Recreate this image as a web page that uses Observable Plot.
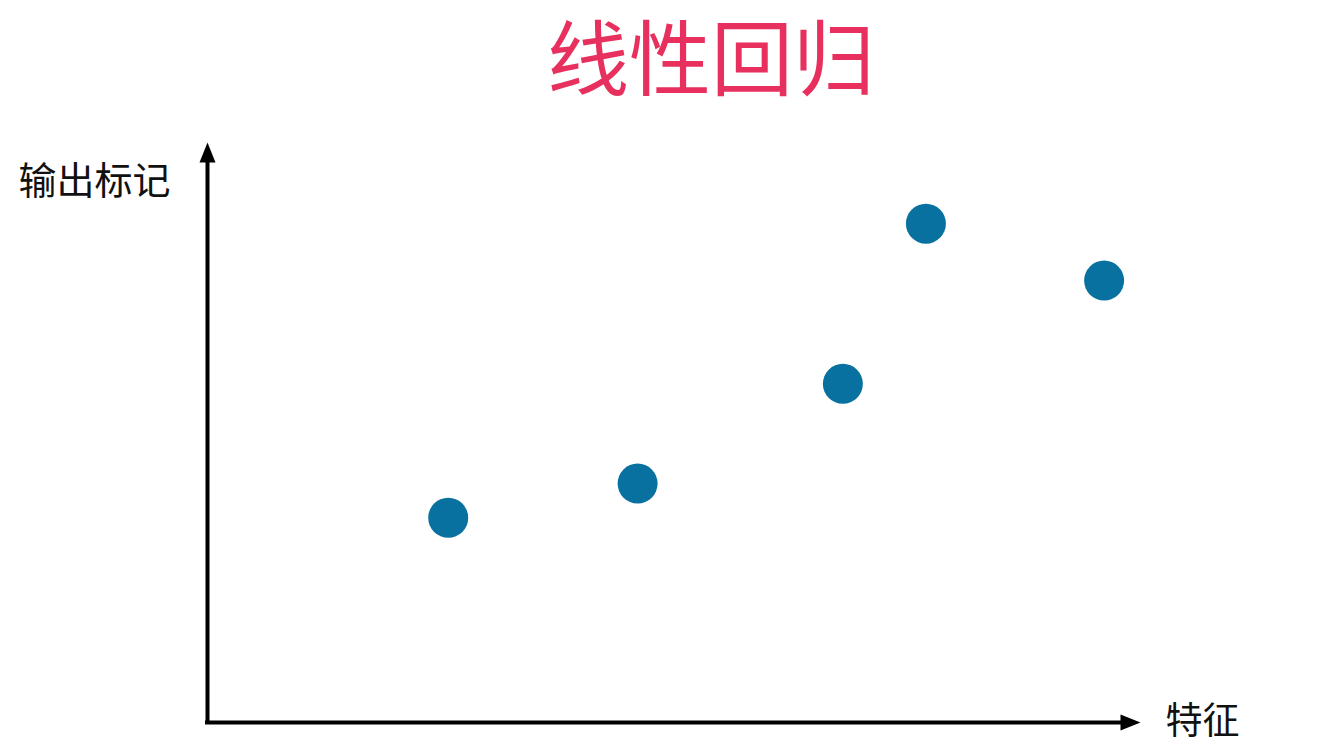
<!DOCTYPE html>
<html>
<head>
<meta charset="utf-8">
<script src="https://cdn.jsdelivr.net/npm/d3@7"></script>
<script src="https://cdn.jsdelivr.net/npm/@observablehq/plot@0.6"></script>
<style>
  html, body { margin: 0; padding: 0; background: #fff; }
  svg { display: block; }
</style>
</head>
<body>
<div id="chart"></div>
<script>
const title = "线性回归";
const xLabel = "特征";
const yLabel = "输出标记";
const features = [2.58, 4.61, 6.81, 7.70, 9.61];
const outputs  = [3.53, 4.12, 5.84, 8.60, 7.62];
const xMax = 10;
const yMax = 10;

const points = features.map((f, i) => ({feature: f, output: outputs[i]}));
const yAxisLine = [{x: 0, y1: yMax, y2: 0}];
const xAxisLine = [{y: 0, x1: 0, x2: xMax}];

const font = "'Noto Sans CJK SC', 'Noto Sans', sans-serif";

const head = {
  draw(context, l) {
    const w = 16;
    context.moveTo(0, -l);
    context.lineTo(-w / 2, 0);
    context.lineTo(w / 2, 0);
    context.closePath();
  }
};

const chart = Plot.plot({
  width: 1336,
  height: 756,
  marginLeft: 207,
  marginRight: 196,
  marginTop: 142,
  marginBottom: 34,
  x: {domain: [0, xMax], axis: null},
  y: {domain: [0, yMax], axis: null},
  style: {fontFamily: font, background: "#fff"},
  marks: [
    Plot.ruleX(yAxisLine, {x: "x", y1: "y1", y2: "y2", stroke: "#000", strokeWidth: 4, insetTop: 12, insetBottom: -2}),
    Plot.ruleY(xAxisLine, {y: "y", x1: "x1", x2: "x2", stroke: "#000", strokeWidth: 4, insetRight: 12, insetLeft: -2}),
    Plot.vector([{x: 0, y: yMax}], {x: "x", y: "y", length: 20, rotate: 0, anchor: "end", shape: head, fill: "#000", stroke: "none"}),
    Plot.vector([{x: xMax, y: 0}], {x: "x", y: "y", length: 20, rotate: 90, anchor: "end", shape: head, fill: "#000", stroke: "none"}),
    Plot.dot(points, {x: "feature", y: "output", r: 20, fill: "#0871a0", stroke: "none"}),
    Plot.text([title], {text: d => d, frameAnchor: "top", dx: 37, dy: -80, lineAnchor: "middle", fontSize: 82, fill: "#e8305e", fontFamily: font}),
    Plot.text([yLabel], {text: d => d, frameAnchor: "top-left", textAnchor: "start", dx: -189, dy: 39, lineAnchor: "middle", fontSize: 38, fill: "#111", fontFamily: font}),
    Plot.text([xLabel], {text: d => d, frameAnchor: "bottom-right", textAnchor: "start", dx: 25, dy: 0, lineAnchor: "middle", fontSize: 37, fill: "#111", fontFamily: font})
  ]
});
document.getElementById("chart").append(chart);
</script>
</body>
</html>
